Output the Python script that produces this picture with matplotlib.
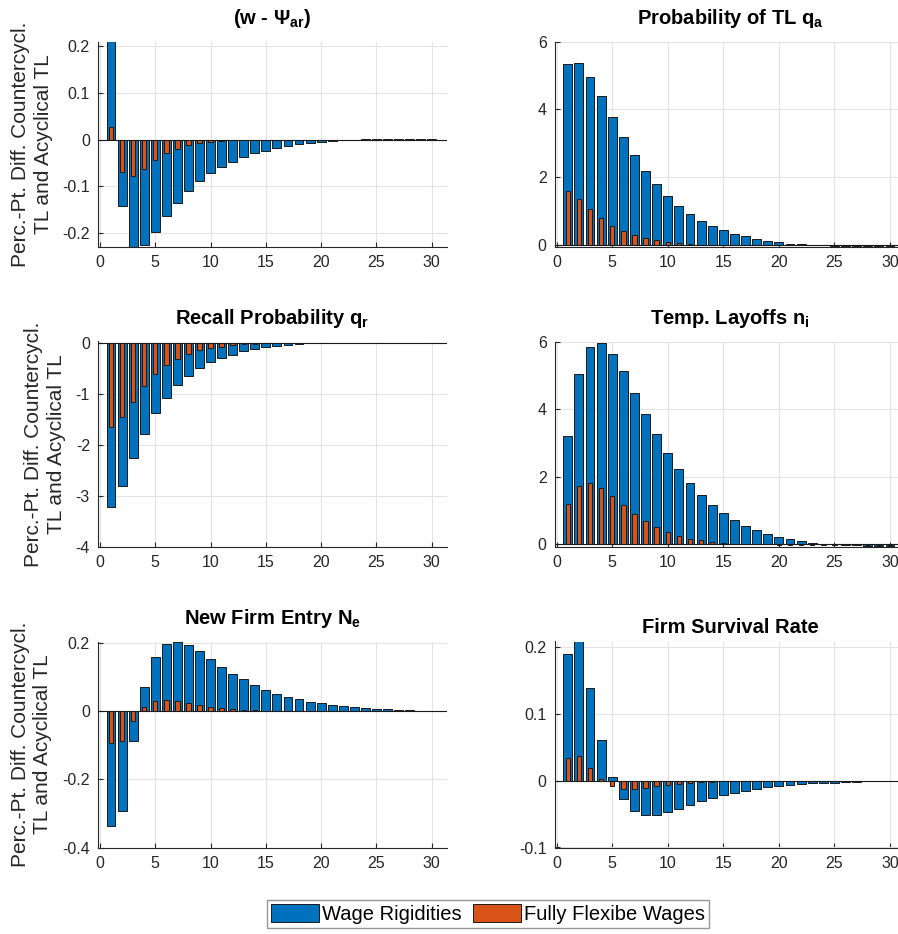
import numpy as np
import matplotlib
matplotlib.use('Agg')
import matplotlib.pyplot as plt
from matplotlib.patches import Patch
from matplotlib.ticker import FormatStrFormatter

plt.rcParams['font.family'] = ['Liberation Sans', 'DejaVu Sans']
plt.rcParams['mathtext.fontset'] = 'custom'
plt.rcParams['mathtext.rm'] = 'Liberation Sans'
plt.rcParams['mathtext.bf'] = 'Liberation Sans:bold'
plt.rcParams['mathtext.it'] = 'Liberation Sans:italic'
plt.rcParams['axes.unicode_minus'] = False

# horizon (quarters)
periods = np.arange(1, 31)

# wage - Psi_ar
wpsi_rigid = [0.23, -0.142, -0.245, -0.225, -0.197, -0.164, -0.135, -0.110, -0.089, -0.072,
              -0.058, -0.047, -0.037, -0.029, -0.023, -0.017, -0.013, -0.009, -0.006, -0.004,
              -0.002, -0.001, 0.0005, 0.001, 0.001, 0.001, 0.001, 0.001, 0.001, 0.001]
wpsi_flex = [0.028, -0.069, -0.078, -0.062, -0.043, -0.029, -0.019, -0.012, -0.007, -0.004,
             -0.002, -0.001, -0.0005, -0.0002, 0, 0, 0, 0, 0, 0,
             0, 0, 0, 0, 0, 0, 0, 0, 0, 0]

# probability of TL q_a
qa_rigid = [5.34, 5.38, 4.97, 4.39, 3.79, 3.20, 2.66, 2.18, 1.79, 1.44,
            1.16, 0.92, 0.72, 0.57, 0.43, 0.33, 0.26, 0.18, 0.13, 0.08,
            0.04, 0.02, 0.0, -0.01, -0.02, -0.03, -0.03, -0.03, -0.03, -0.03]
qa_flex = [1.60, 1.36, 1.05, 0.79, 0.57, 0.40, 0.29, 0.20, 0.14, 0.09,
           0.05, 0.03, 0.01, 0.005, 0, 0, 0, 0, 0, 0,
           0, 0, 0, 0, 0, 0, 0, 0, 0, 0]

# recall probability q_r
qr_rigid = [-3.21, -2.80, -2.26, -1.78, -1.38, -1.07, -0.83, -0.64, -0.49, -0.38,
            -0.29, -0.23, -0.16, -0.12, -0.085, -0.05, -0.03, -0.015, -0.005, 0.005,
            0.01, 0.01, 0.01, 0.01, 0.01, 0.01, 0.01, 0.01, 0.01, 0.01]
qr_flex = [-1.65, -1.46, -1.15, -0.85, -0.61, -0.44, -0.31, -0.21, -0.14, -0.10,
           -0.07, -0.045, -0.025, -0.015, -0.008, -0.004, -0.002, 0, 0, 0,
           0, 0, 0, 0, 0, 0, 0, 0, 0, 0]

# temporary layoffs n_i
ni_rigid = [3.20, 5.03, 5.83, 5.95, 5.64, 5.12, 4.49, 3.85, 3.25, 2.71,
            2.22, 1.82, 1.46, 1.16, 0.92, 0.72, 0.55, 0.42, 0.31, 0.22,
            0.15, 0.09, 0.05, 0.02, 0.0, -0.02, -0.03, -0.04, -0.04, -0.04]
ni_flex = [1.18, 1.71, 1.82, 1.68, 1.43, 1.15, 0.90, 0.68, 0.50, 0.37,
           0.26, 0.17, 0.12, 0.08, 0.04, 0.02, 0.01, 0, 0, -0.01,
           -0.01, -0.01, -0.01, -0.01, -0.01, -0.01, -0.01, -0.01, -0.01, -0.01]

# new firm entry N_e
ne_rigid = [-0.338, -0.293, -0.088, 0.071, 0.160, 0.198, 0.205, 0.196, 0.176, 0.154,
            0.131, 0.111, 0.094, 0.076, 0.064, 0.052, 0.042, 0.035, 0.027, 0.023,
            0.018, 0.015, 0.012, 0.009, 0.007, 0.006, 0.004, 0.003, 0.002, 0.002]
ne_flex = [-0.094, -0.088, -0.029, 0.012, 0.029, 0.032, 0.029, 0.024, 0.018, 0.013,
           0.010, 0.007, 0.005, 0.003, 0.002, 0.001, 0.001, 0, 0, 0,
           0, 0, 0, 0, 0, 0, 0, 0, 0, 0]

# firm survival rate
surv_rigid = [0.190, 0.215, 0.139, 0.061, 0.0055, -0.028, -0.045, -0.051, -0.051, -0.047,
              -0.042, -0.036, -0.031, -0.026, -0.022, -0.018, -0.015, -0.012, -0.0095, -0.0075,
              -0.006, -0.005, -0.004, -0.0035, -0.003, -0.002, -0.0015, -0.001, -0.001, -0.0005]
surv_flex = [0.034, 0.037, 0.019, 0.002, -0.0085, -0.0125, -0.0125, -0.011, -0.0085, -0.0065,
             -0.005, -0.0035, -0.0025, -0.0015, -0.001, -0.0005, 0, 0, 0, 0,
             0, 0, 0, 0, 0, 0, 0, 0, 0, 0]

titles = [r'(w - $\mathbf{\Psi_{ar}}$)', r'Probability of TL $\mathbf{q_a}$',
          r'Recall Probability $\mathbf{q_r}$', r'Temp. Layoffs $\mathbf{n_i}$',
          r'New Firm Entry $\mathbf{N_e}$', 'Firm Survival Rate']
rigid = [wpsi_rigid, qa_rigid, qr_rigid, ni_rigid, ne_rigid, surv_rigid]
flex = [wpsi_flex, qa_flex, qr_flex, ni_flex, ne_flex, surv_flex]
ylims = [(-0.229, 0.21), (-0.05, 6), (-4, 0.03), (-0.08, 6), (-0.4, 0.205), (-0.1, 0.2085)]
yticks = [[-0.2, -0.1, 0, 0.1, 0.2], [0, 2, 4, 6], [-4, -3, -2, -1, 0],
          [0, 2, 4, 6], [-0.4, -0.2, 0, 0.2], [-0.1, 0, 0.1, 0.2]]

blue = '#0072BD'
orange = '#D95319'
dark = '#262626'

fig = plt.figure(figsize=(8.98, 9.34), dpi=100)
W, H = 898, 934
lefts = [98.3, 555]
widths = [348.4, 350]
rows = [(41.7, 246.7), (341.5, 547), (641.5, 847.5)]

for i in range(6):
    r, c = divmod(i, 2)
    top, bot = rows[r]
    ax = fig.add_axes([lefts[c] / W, 1 - bot / H, widths[c] / W, (bot - top) / H])
    ax.bar(periods, rigid[i], width=0.8, color=blue, edgecolor='#1a1a1a', linewidth=0.7, zorder=2)
    ax.bar(periods, flex[i], width=0.4, color=orange, edgecolor='#1a1a1a', linewidth=0.7, zorder=3)
    ax.axhline(0, color='#1a1a1a', lw=0.8, zorder=4)
    ax.set_xlim(-0.15, 31.35)
    ax.set_ylim(*ylims[i])
    ax.set_xticks([0, 5, 10, 15, 20, 25, 30])
    ax.set_yticks(yticks[i])
    ax.yaxis.set_major_formatter(FormatStrFormatter('%g'))
    ax.grid(True, color='#e3e3e3', lw=0.8, zorder=0)
    ax.set_axisbelow(True)
    for s in ['top', 'right']:
        ax.spines[s].set_visible(False)
    for s in ['left', 'bottom']:
        ax.spines[s].set_color(dark)
        ax.spines[s].set_linewidth(0.8)
    ax.tick_params(direction='in', length=3.5, width=0.8, color=dark,
                   labelcolor=dark, labelsize=11.5, pad=6)
    pad = 12.5 if '$' in titles[i] else 6.3
    ax.set_title(titles[i], fontsize=14.5, fontweight='bold', pad=pad)
    if c == 0:
        ax.set_ylabel('Perc.-Pt. Diff. Countercycl.\nTL and Acyclical TL',
                      fontsize=15, color=dark, labelpad=7, linespacing=1.25)

handles = [Patch(facecolor=blue, edgecolor='#1a1a1a', lw=0.7),
           Patch(facecolor=orange, edgecolor='#1a1a1a', lw=0.7)]
fig.legend(handles, ['Wage Rigidities', 'Fully Flexibe Wages'], ncol=2,
           loc='center', bbox_to_anchor=(488 / W, 1 - 914 / H), fontsize=14.5,
           frameon=True, fancybox=False, edgecolor='#7f7f7f', handlelength=2.35,
           handleheight=0.95, handletextpad=0.15, columnspacing=0.6, borderpad=0.2,
           borderaxespad=0)

fig.savefig('out.png', dpi=100)
